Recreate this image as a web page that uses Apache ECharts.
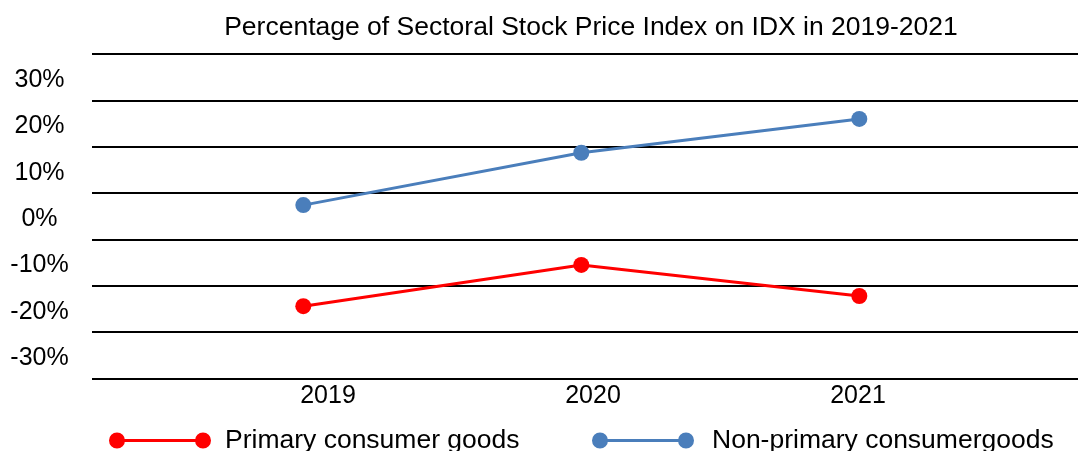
<!DOCTYPE html>
<html><head><meta charset="utf-8">
<script src="https://cdn.jsdelivr.net/npm/echarts@6/dist/echarts.min.js"></script>
<style>html,body{margin:0;padding:0;background:#fff}#c{width:1079px;height:451px}</style>
</head><body><div id="c"></div>
<script>
// ---- data ----
const years = ['2019', '2020', '2021'];
const primaryName = 'Primary consumer goods';
const nonPrimaryName = 'Non-primary consumergoods';
const primary = [-19.4, -10.5, -17.2];
const nonPrimary = [2.4, 13.7, 21.0];
const yTickLabels = [-30, -20, -10, 0, 10, 20, 30];
const yMin = -35, yMax = 35;

const FONT = '"Liberation Sans", Arial, sans-serif';
const chart = echarts.init(document.getElementById('c'), null, {renderer: 'canvas'});
const legendIcon = 'path://M0,8A8,8 0 1,1 16,8A8,8 0 1,1 0,8Z M86,8A8,8 0 1,1 102,8A8,8 0 1,1 86,8Z M15,6.5L87,6.5L87,9.5L15,9.5Z';

chart.setOption({
  animation: false,
  backgroundColor: '#fff',
  title: {
    text: 'Percentage of Sectoral Stock Price Index on IDX in 2019-2021',
    left: 586, top: 9, textAlign: 'center',
    textStyle: {fontFamily: FONT, fontSize: 26.5, fontWeight: 'normal', color: '#000'}
  },
  legend: [
    {data: [primaryName], left: 104, top: 422, itemWidth: 102, itemHeight: 16, icon: legendIcon,
     textStyle: {fontFamily: FONT, fontSize: 26.5, color: '#000', padding: [0, 0, 0, 9]}},
    {data: [nonPrimaryName], left: 587, top: 422, itemWidth: 102, itemHeight: 16, icon: legendIcon,
     textStyle: {fontFamily: FONT, fontSize: 26.5, color: '#000', padding: [0, 0, 0, 13]}}
  ],
  grid: [
    {left: 92, right: 1, top: 54, bottom: 72.5},
    {left: 164.3, right: 80.7, top: 54, bottom: 72.5},
    {left: 195.5, right: 88.5, top: 54, bottom: 72.5}
  ],
  xAxis: [
    {gridIndex: 0, type: 'category', data: years, show: false},
    {gridIndex: 1, type: 'category', data: years, boundaryGap: true,
     axisLine: {show: false}, axisTick: {show: false}, axisLabel: {show: false}, splitLine: {show: false}},
    {gridIndex: 2, type: 'category', data: years, boundaryGap: true,
     axisLine: {show: false}, axisTick: {show: false}, splitLine: {show: false},
     axisLabel: {margin: 5, fontFamily: FONT, fontSize: 25, color: '#000'}}
  ],
  yAxis: [
    {gridIndex: 0, type: 'value', min: yMin, max: yMax, interval: 5,
     axisLine: {show: false}, axisTick: {show: false},
     splitLine: {show: true, lineStyle: {color: ['#000', 'rgba(0,0,0,0)'], width: 2}},
     axisLabel: {align: 'center', verticalAlign: 'top', lineHeight: 6, margin: 52.5,
       fontFamily: FONT, fontSize: 25, color: '#000',
       formatter: v => yTickLabels.includes(v) ? v + '%' : ''}},
    {gridIndex: 1, type: 'value', min: yMin, max: yMax, interval: 5, show: false, splitLine: {show: false}},
    {gridIndex: 2, type: 'value', min: yMin, max: yMax, interval: 5, show: false, splitLine: {show: false}}
  ],
  series: [
    {name: primaryName, type: 'line', xAxisIndex: 1, yAxisIndex: 1, data: primary,
     symbol: 'circle', symbolSize: 16, color: '#FF0000',
     lineStyle: {width: 3, color: '#FF0000'}, itemStyle: {color: '#FF0000'}},
    {name: nonPrimaryName, type: 'line', xAxisIndex: 1, yAxisIndex: 1, data: nonPrimary,
     symbol: 'circle', symbolSize: 16, color: '#4A7EBB',
     lineStyle: {width: 3, color: '#4A7EBB'}, itemStyle: {color: '#4A7EBB'}}
  ]
});
</script></body></html>
